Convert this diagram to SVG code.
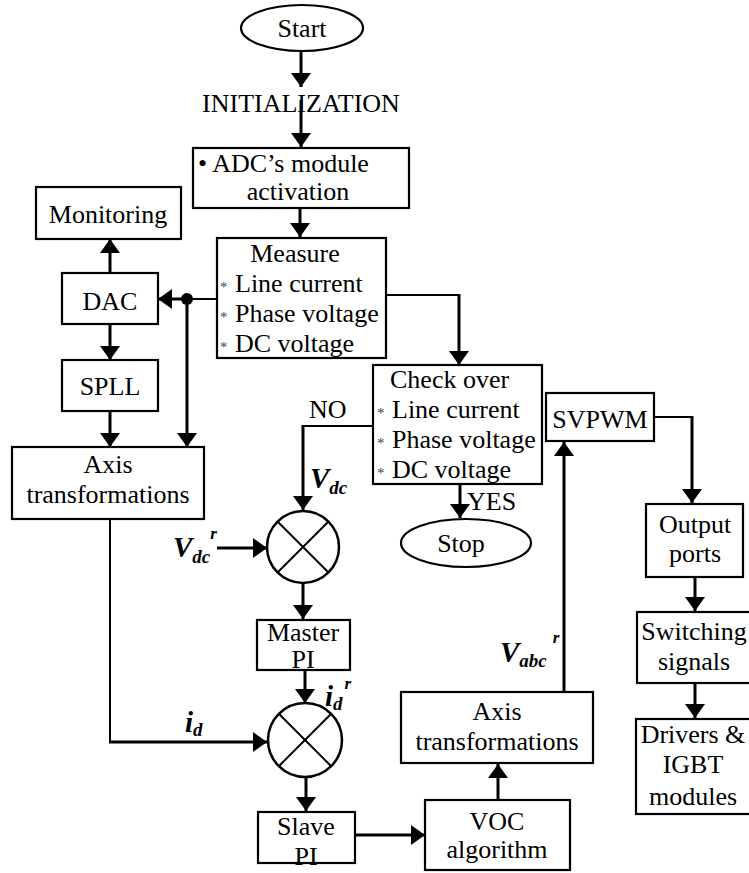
<svg xmlns="http://www.w3.org/2000/svg" width="749" height="873" viewBox="0 0 749 873">
  <style>
    .box { fill: #fff; stroke: #000; stroke-width: 2.2; }
    .term { fill: #fff; stroke: #000; stroke-width: 2.2; }
    .t { font-family: "Liberation Serif", "Times New Roman", serif; font-size: 26px; fill: #000; }
    .c { text-anchor: middle; }
    .star { font-family: "Liberation Serif", serif; font-size: 15px; fill: #444; }
    .lbl { font-family: "Liberation Serif", "Times New Roman", serif; font-weight: bold; font-style: italic; fill: #000; }
    .big { font-size: 29px; }
    .sub { font-size: 19px; }
    .sup { font-size: 17px; }
    .w { fill: none; stroke: #000; stroke-width: 3; }
    .thin { fill: none; stroke: #000; stroke-width: 2; }
    .arr { marker-end: url(#ah); }
    .sum { fill: #fff; stroke: #000; stroke-width: 2.5; }
    .x { stroke: #000; stroke-width: 2; }
  </style>
  <defs>
    <marker id="ah" markerUnits="userSpaceOnUse" markerWidth="14" markerHeight="20" viewBox="0 0 14 20" refX="14" refY="10" orient="auto">
      <path d="M0,0 L14,10 L0,20 Z" fill="#000"/>
    </marker>
  </defs>

  <!-- connectors -->
  <g id="connectors">
    <path class="w arr" d="M301,51 V87"/>
    <path class="w arr" d="M301,100 V147"/>
    <path class="w arr" d="M300,208 V237"/>
    <path class="thin" d="M386,295 H459"/>
    <path class="w arr" d="M459,294 V365"/>
    <path class="thin" d="M217,299 H187"/>
    <path class="w arr" d="M187,299 H158"/>
    <circle cx="187" cy="299" r="6" fill="#000"/>
    <path class="w arr" d="M187,299 V447"/>
    <path class="w arr" d="M110,273 V239"/>
    <path class="w arr" d="M110,324 V360"/>
    <path class="w arr" d="M110,411 V447"/>
    <path class="thin" d="M110,519 V742"/>
    <path class="w arr" d="M109,742 H267"/>
    <path class="thin" d="M373,426 H303"/>
    <path class="w arr" d="M303,425 V510"/>
    <path class="w arr" d="M217,548 H267"/>
    <path class="w arr" d="M303,583 V619"/>
    <path class="w arr" d="M305,670 V703"/>
    <path class="w arr" d="M306,777 V811"/>
    <path class="w arr" d="M355,835 H425"/>
    <path class="w arr" d="M498,800 V764"/>
    <path class="w arr" d="M564,692 V442"/>
    <path class="thin" d="M654,417 H692"/>
    <path class="w arr" d="M692,416 V503"/>
    <path class="w arr" d="M695,577 V611"/>
    <path class="w arr" d="M695,683 V718"/>
    <path class="w arr" d="M460,484 V518"/>
  </g>

  <!-- connector labels -->
  <g id="labels">
    <text class="t" x="301" y="112" text-anchor="middle">INITIALIZATION</text>
    <text class="t" x="309" y="418">NO</text>
    <text class="t" x="467" y="510">YES</text>
    <text class="lbl" x="310" y="488"><tspan class="big">V</tspan><tspan class="sub" dy="6">dc</tspan></text>
    <text class="lbl" x="173" y="557"><tspan class="big">V</tspan><tspan class="sub" dy="6">dc</tspan><tspan class="sup" dy="-24">r</tspan></text>
    <text class="lbl" x="325" y="706"><tspan class="big">i</tspan><tspan class="sub" dy="4">d</tspan><tspan class="sup" dy="-21" dx="2">r</tspan></text>
    <text class="lbl" x="185" y="732"><tspan class="big">i</tspan><tspan class="sub" dy="4">d</tspan></text>
    <text class="lbl" x="500" y="662"><tspan class="big">V</tspan><tspan class="sub" dy="5">abc</tspan><tspan class="sup" dy="-24" dx="6">r</tspan></text>
  </g>

  <g id="start">
    <ellipse class="term" cx="302" cy="28" rx="61" ry="23"/>
    <text class="t c" x="302" y="37">Start</text>
  </g>

  <g id="adc">
    <rect class="box" x="193" y="148" width="216" height="60"/>
    <text class="t" x="198" y="172">• ADC’s module</text>
    <text class="t c" x="298" y="200">activation</text>
  </g>

  <g id="measure">
    <rect class="box" x="217" y="238" width="169" height="120"/>
    <text class="t c" x="295" y="262">Measure</text>
    <text class="star" x="220" y="292">*</text>
    <text class="t" x="235" y="292">Line current</text>
    <text class="star" x="220" y="322">*</text>
    <text class="t" x="235" y="322">Phase voltage</text>
    <text class="star" x="220" y="352">*</text>
    <text class="t" x="235" y="352">DC voltage</text>
  </g>

  <g id="monitoring">
    <rect class="box" x="36" y="187" width="145" height="52"/>
    <text class="t c" x="108" y="223">Monitoring</text>
  </g>

  <g id="dac">
    <rect class="box" x="62" y="273" width="96" height="51"/>
    <text class="t c" x="110" y="310">DAC</text>
  </g>

  <g id="spll">
    <rect class="box" x="62" y="360" width="96" height="51"/>
    <text class="t c" x="110" y="395">SPLL</text>
  </g>

  <g id="axis1">
    <rect class="box" x="12" y="447" width="192" height="72"/>
    <text class="t c" x="108" y="473">Axis</text>
    <text class="t c" x="108" y="503">transformations</text>
  </g>

  <g id="check">
    <rect class="box" x="373" y="365" width="169" height="119"/>
    <text class="t" x="390" y="388">Check over</text>
    <text class="star" x="377" y="418">*</text>
    <text class="t" x="392" y="418">Line current</text>
    <text class="star" x="377" y="448">*</text>
    <text class="t" x="392" y="448">Phase voltage</text>
    <text class="star" x="377" y="478">*</text>
    <text class="t" x="392" y="478">DC voltage</text>
  </g>

  <g id="stop">
    <ellipse class="term" cx="466" cy="543" rx="65" ry="24"/>
    <text class="t c" x="461" y="552">Stop</text>
  </g>

  <g id="sum1">
    <circle class="sum" cx="303" cy="547" r="36"/>
    <path class="x" d="M277.5,521.5 L328.5,572.5 M328.5,521.5 L277.5,572.5"/>
  </g>

  <g id="master">
    <rect class="box" x="257" y="620" width="93" height="50"/>
    <text class="t c" x="303" y="641">Master</text>
    <text class="t c" x="303" y="668">PI</text>
  </g>

  <g id="sum2">
    <circle class="sum" cx="305" cy="740" r="37"/>
    <path class="x" d="M278.8,713.8 L331.2,766.2 M331.2,713.8 L278.8,766.2"/>
  </g>

  <g id="slave">
    <rect class="box" x="258" y="812" width="97" height="51"/>
    <text class="t c" x="306" y="835">Slave</text>
    <text class="t c" x="306" y="865">PI</text>
  </g>

  <g id="voc">
    <rect class="box" x="425" y="800" width="145" height="70"/>
    <text class="t c" x="497" y="830">VOC</text>
    <text class="t c" x="497" y="858">algorithm</text>
  </g>

  <g id="axis2">
    <rect class="box" x="401" y="692" width="192" height="71"/>
    <text class="t c" x="497" y="720">Axis</text>
    <text class="t c" x="497" y="750">transformations</text>
  </g>

  <g id="svpwm">
    <rect class="box" x="546" y="393" width="108" height="48"/>
    <text class="t c" x="600" y="428">SVPWM</text>
  </g>

  <g id="output">
    <rect class="box" x="646" y="504" width="97" height="73"/>
    <text class="t c" x="695" y="533">Output</text>
    <text class="t c" x="695" y="562">ports</text>
  </g>

  <g id="switching">
    <rect class="box" x="637" y="612" width="114" height="71"/>
    <text class="t c" x="694" y="640">Switching</text>
    <text class="t c" x="694" y="670">signals</text>
  </g>

  <g id="drivers">
    <rect class="box" x="636" y="719" width="115" height="95"/>
    <text class="t c" x="693" y="743">Drivers &amp;</text>
    <text class="t c" x="693" y="773">IGBT</text>
    <text class="t c" x="693" y="805">modules</text>
  </g>
</svg>
